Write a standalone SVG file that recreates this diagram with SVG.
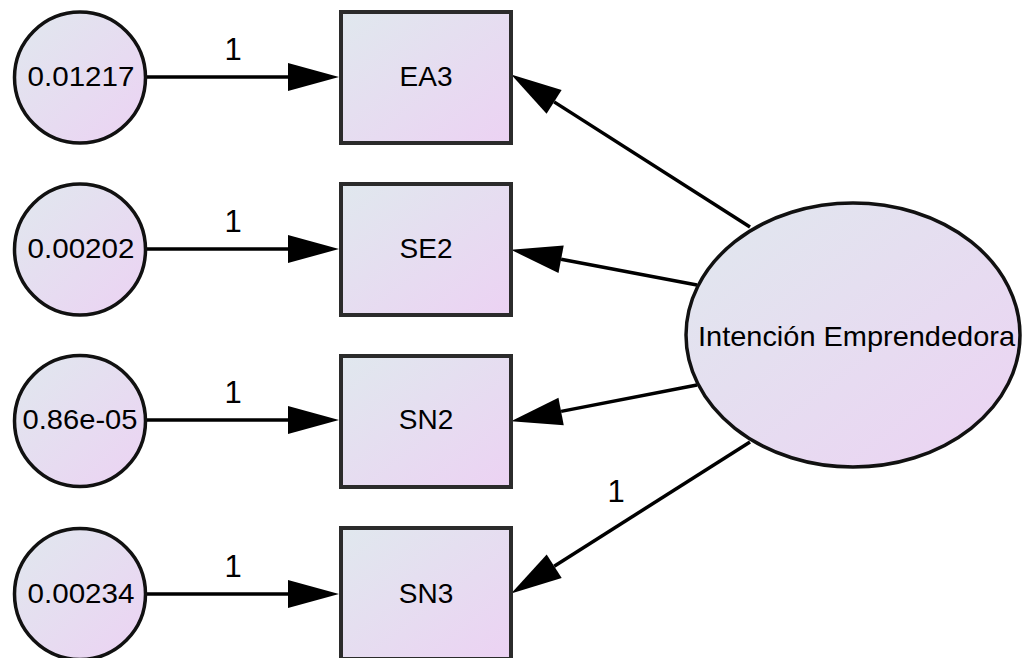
<svg xmlns="http://www.w3.org/2000/svg" width="1022" height="658" viewBox="0 0 1022 658">
  <defs>
    <linearGradient id="fill" x1="0" y1="0" x2="1" y2="1">
      <stop offset="0" stop-color="#e0e8ee"/>
      <stop offset="1" stop-color="#ecd2f3"/>
    </linearGradient>
    <marker id="head" markerUnits="userSpaceOnUse" markerWidth="52" markerHeight="30" refX="0" refY="14" orient="auto" overflow="visible">
      <path d="M0,0 L51,14 L0,28 Z" fill="#000"/>
    </marker>
    <style>
      .node { fill: url(#fill); stroke: #111; stroke-width: 3.5; }
      .box { fill: url(#fill); stroke: #2b2b2b; stroke-width: 4; }
      .edge { stroke: #000; stroke-width: 3.5; fill: none; marker-end: url(#head); }
      text { font-family: "Liberation Sans", Arial, sans-serif; fill: #000; text-anchor: middle; }
      .t { font-size: 28px; }
      .lbl { font-size: 31px; }
    </style>
  </defs>

  <!-- paths: error terms to indicators, latent factor to indicators -->
  <g id="connectors">
    <line class="edge" x1="147" y1="77" x2="288" y2="77"/>
    <line class="edge" x1="147" y1="249" x2="288" y2="249"/>
    <line class="edge" x1="147" y1="420" x2="288" y2="420"/>
    <line class="edge" x1="147" y1="594" x2="288" y2="594"/>
    <line class="edge" x1="750" y1="227" x2="554.1" y2="101.9"/>
    <line class="edge" x1="697" y1="285" x2="561.1" y2="259.3"/>
    <line class="edge" x1="697" y1="385" x2="561.1" y2="411.4"/>
    <line class="edge" x1="750" y1="442" x2="554.2" y2="566.2"/>
    <text class="lbl" x="233" y="60">1</text>
    <text class="lbl" x="233" y="232">1</text>
    <text class="lbl" x="233" y="403">1</text>
    <text class="lbl" x="233" y="577">1</text>
    <text class="lbl" x="616" y="502">1</text>
  </g>

  <!-- error terms -->
  <g id="e1">
    <circle class="node" cx="80" cy="77.5" r="65.5"/>
    <text class="t" x="81" y="86" textLength="107" lengthAdjust="spacingAndGlyphs">0.01217</text>
  </g>
  <g id="e2">
    <circle class="node" cx="80" cy="249.5" r="65.5"/>
    <text class="t" x="81" y="258" textLength="107" lengthAdjust="spacingAndGlyphs">0.00202</text>
  </g>
  <g id="e3">
    <circle class="node" cx="80" cy="421" r="65.5"/>
    <text class="t" x="80" y="429" textLength="115" lengthAdjust="spacingAndGlyphs">0.86e-05</text>
  </g>
  <g id="e4">
    <circle class="node" cx="80" cy="594" r="65.5"/>
    <text class="t" x="81" y="603" textLength="107" lengthAdjust="spacingAndGlyphs">0.00234</text>
  </g>

  <!-- observed indicators -->
  <g id="EA3">
    <rect class="box" x="341" y="12" width="170" height="131"/>
    <text class="t" x="426" y="86">EA3</text>
  </g>
  <g id="SE2">
    <rect class="box" x="341" y="184" width="170" height="131"/>
    <text class="t" x="426" y="258">SE2</text>
  </g>
  <g id="SN2">
    <rect class="box" x="341" y="356" width="170" height="131"/>
    <text class="t" x="426" y="429">SN2</text>
  </g>
  <g id="SN3">
    <rect class="box" x="341" y="528" width="170" height="131"/>
    <text class="t" x="426" y="603">SN3</text>
  </g>

  <!-- latent factor -->
  <g id="intencion">
    <ellipse class="node" cx="853" cy="335" rx="167" ry="132"/>
    <text class="t" x="856.5" y="346" textLength="317" lengthAdjust="spacingAndGlyphs">Intención Emprendedora</text>
  </g>
</svg>
